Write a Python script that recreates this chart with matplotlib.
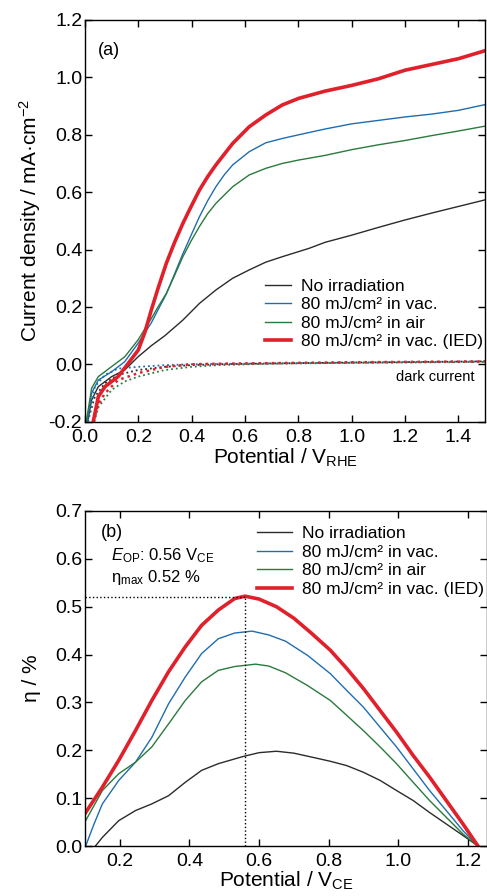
import matplotlib
matplotlib.use("Agg")
import matplotlib.pyplot as plt

plt.rcParams['font.family'] = ['Liberation Sans', 'DejaVu Sans']
plt.rcParams['mathtext.fontset'] = 'custom'
plt.rcParams['mathtext.rm'] = 'Liberation Sans'
plt.rcParams['mathtext.it'] = 'Liberation Sans:italic'

# --- (a) current density vs potential, under light (solid) ---
x_black = [0.01, 0.025, 0.05, 0.1, 0.149, 0.199, 0.249, 0.3, 0.367, 0.429, 0.491, 0.554, 0.616, 0.678, 0.74, 0.84, 0.9, 1.0, 1.1, 1.2, 1.3, 1.4, 1.5]
j_black = [-0.2, -0.124, -0.078, -0.043, -0.02, 0.026, 0.065, 0.1, 0.154, 0.212, 0.259, 0.3, 0.329, 0.356, 0.375, 0.404, 0.425, 0.45, 0.477, 0.503, 0.527, 0.55, 0.573]

x_blue = [0.008, 0.025, 0.05, 0.1, 0.149, 0.199, 0.249, 0.274, 0.305, 0.336, 0.367, 0.398, 0.429, 0.46, 0.491, 0.522, 0.554, 0.616, 0.678, 0.74, 0.802, 0.9, 1.0, 1.1, 1.2, 1.3, 1.4, 1.5]
j_blue = [-0.2, -0.1, -0.055, -0.026, 0.009, 0.073, 0.145, 0.19, 0.245, 0.315, 0.385, 0.45, 0.514, 0.57, 0.619, 0.66, 0.695, 0.741, 0.772, 0.787, 0.8, 0.82, 0.838, 0.85, 0.862, 0.872, 0.885, 0.905]

x_green = [0.005, 0.025, 0.05, 0.1, 0.149, 0.199, 0.249, 0.274, 0.305, 0.336, 0.367, 0.398, 0.429, 0.46, 0.491, 0.554, 0.616, 0.678, 0.74, 0.802, 0.9, 1.0, 1.1, 1.2, 1.3, 1.4, 1.5]
j_green = [-0.2, -0.083, -0.043, -0.008, 0.026, 0.085, 0.16, 0.2, 0.247, 0.31, 0.375, 0.43, 0.48, 0.525, 0.561, 0.619, 0.66, 0.683, 0.7, 0.712, 0.728, 0.748, 0.765, 0.78, 0.797, 0.813, 0.83]

x_red = [0.031, 0.05, 0.075, 0.1, 0.124, 0.162, 0.2, 0.224, 0.249, 0.274, 0.305, 0.336, 0.367, 0.398, 0.429, 0.46, 0.491, 0.554, 0.616, 0.678, 0.74, 0.802, 0.9, 1.0, 1.1, 1.15, 1.2, 1.3, 1.4, 1.5]
j_red = [-0.2, -0.113, -0.078, -0.06, -0.043, 0.003, 0.05, 0.11, 0.19, 0.265, 0.352, 0.425, 0.491, 0.55, 0.607, 0.654, 0.695, 0.77, 0.828, 0.869, 0.904, 0.927, 0.952, 0.972, 0.995, 1.01, 1.025, 1.045, 1.065, 1.093]

# dark currents (dotted)
xd_black = [0.01, 0.037, 0.075, 0.124, 0.199, 0.299, 0.398, 0.5, 0.7, 1.0, 1.5]
jd_black = [-0.2, -0.113, -0.066, -0.037, -0.02, -0.009, -0.003, 0.0, 0.003, 0.006, 0.01]
xd_blue = [0.012, 0.037, 0.075, 0.124, 0.199, 0.299, 0.398, 0.5, 0.7, 1.0, 1.5]
jd_blue = [-0.2, -0.078, -0.037, -0.015, -0.009, -0.003, 0.0, 0.001, 0.003, 0.006, 0.01]
xd_green = [0.035, 0.05, 0.1, 0.149, 0.199, 0.299, 0.398, 0.5, 0.7, 1.0, 1.5]
jd_green = [-0.2, -0.15, -0.089, -0.06, -0.043, -0.02, -0.009, -0.003, 0.002, 0.005, 0.008]
xd_red = [0.03, 0.05, 0.075, 0.124, 0.199, 0.299, 0.398, 0.5, 0.7, 1.0, 1.5]
jd_red = [-0.2, -0.14, -0.101, -0.055, -0.031, -0.009, 0.0, 0.002, 0.004, 0.007, 0.01]

# --- (b) efficiency vs potential ---
xe_black = [0.13, 0.15, 0.197, 0.245, 0.292, 0.34, 0.388, 0.435, 0.483, 0.554, 0.6, 0.65, 0.7, 0.75, 0.805, 0.852, 0.9, 0.948, 0.995, 1.043, 1.09, 1.138, 1.186, 1.229]
eta_black = [0.0, 0.018, 0.053, 0.074, 0.088, 0.105, 0.133, 0.158, 0.172, 0.187, 0.195, 0.198, 0.194, 0.186, 0.177, 0.168, 0.154, 0.137, 0.116, 0.095, 0.07, 0.046, 0.022, 0.0]
xe_blue = [0.102, 0.126, 0.15, 0.197, 0.245, 0.292, 0.34, 0.388, 0.435, 0.483, 0.53, 0.58, 0.628, 0.676, 0.74, 0.805, 0.852, 0.9, 0.948, 0.995, 1.043, 1.09, 1.138, 1.186, 1.229]
eta_blue = [0.0, 0.046, 0.088, 0.137, 0.175, 0.227, 0.297, 0.353, 0.402, 0.433, 0.445, 0.449, 0.441, 0.428, 0.398, 0.36, 0.325, 0.29, 0.248, 0.207, 0.161, 0.116, 0.074, 0.032, 0.0]
xe_green = [0.102, 0.15, 0.197, 0.245, 0.292, 0.34, 0.388, 0.435, 0.483, 0.53, 0.59, 0.628, 0.676, 0.74, 0.805, 0.852, 0.9, 0.948, 0.995, 1.043, 1.09, 1.138, 1.186, 1.229]
eta_green = [0.053, 0.116, 0.151, 0.175, 0.207, 0.255, 0.304, 0.343, 0.367, 0.375, 0.38, 0.376, 0.362, 0.335, 0.304, 0.273, 0.241, 0.207, 0.172, 0.133, 0.095, 0.06, 0.025, 0.0]
xe_red = [0.102, 0.15, 0.197, 0.245, 0.292, 0.34, 0.388, 0.435, 0.483, 0.53, 0.56, 0.6, 0.65, 0.7, 0.75, 0.805, 0.852, 0.9, 0.948, 0.995, 1.043, 1.09, 1.138, 1.186, 1.229]
eta_red = [0.07, 0.123, 0.179, 0.241, 0.304, 0.364, 0.416, 0.461, 0.493, 0.517, 0.522, 0.516, 0.5, 0.476, 0.445, 0.409, 0.371, 0.329, 0.283, 0.238, 0.189, 0.144, 0.095, 0.046, 0.0]

labels = ['No irradiation', '80 mJ/cm² in vac.', '80 mJ/cm² in air', '80 mJ/cm² in vac. (IED)']
colors = ['#2b2b2b', '#1f6db0', '#2a7a3c', '#e0202a']
widths = [1.0, 1.0, 1.0, 2.6]
E_op, eta_max = 0.56, 0.52

fig = plt.figure(figsize=(4.87, 8.96), dpi=100)
ax1 = fig.add_axes([0.1745, 0.5294, 0.8215, 0.4483])
ax2 = fig.add_axes([0.1745, 0.0558, 0.8255, 0.3739])

light = [(x_black, j_black), (x_blue, j_blue), (x_green, j_green), (x_red, j_red)]
dark = [(xd_black, jd_black), (xd_blue, jd_blue), (xd_green, jd_green), (xd_red, jd_red)]
for (x, y), (xd, yd), c, w, lab in zip(light, dark, colors, widths, labels):
    ax1.plot(xd, yd, ':', color=c, lw=1.8 if w > 2 else 1.3)
    ax1.plot(x, y, '-', color=c, lw=w, label=lab)

ax1.set_xlim(0, 1.5)
ax1.set_ylim(-0.2, 1.2)
ax1.set_xticks([0.0, 0.2, 0.4, 0.6, 0.8, 1.0, 1.2, 1.4])
ax1.set_yticks([-0.2, 0.0, 0.2, 0.4, 0.6, 0.8, 1.0, 1.2])
ax1.set_xticklabels(['0.0', '0.2', '0.4', '0.6', '0.8', '1.0', '1.2', '1.4'])
ax1.set_yticklabels(['-0.2', '0.0', '0.2', '0.4', '0.6', '0.8', '1.0', '1.2'])
ax1.set_xlabel('Potential / V$_{\\rm RHE}$', fontsize=15, labelpad=1)
ax1.set_ylabel('Current density / mA·cm$^{-2}$', fontsize=15, labelpad=4)
ax1.text(0.05, 1.095, '(a)', fontsize=13, va='center')
ax1.text(1.46, -0.043, 'dark current', fontsize=10.5, ha='right', va='center')
ax1.legend(loc='upper left', bbox_to_anchor=(0.45, 0.355), frameon=False, fontsize=12.5,
           handlelength=1.5, handletextpad=0.6, labelspacing=0.18, borderpad=0, borderaxespad=0)

eff = [(xe_black, eta_black), (xe_blue, eta_blue), (xe_green, eta_green), (xe_red, eta_red)]
for (x, y), c, w, lab in zip(eff, colors, widths, labels):
    ax2.plot(x, y, '-', color=c, lw=w, label=lab)
ax2.plot([0.1, E_op], [eta_max, eta_max], ':', color='black', lw=1.0)
ax2.plot([E_op, E_op], [0, eta_max], ':', color='black', lw=1.0)

ax2.set_xlim(0.1, 1.255)
ax2.set_ylim(0, 0.7)
ax2.set_xticks([0.2, 0.4, 0.6, 0.8, 1.0, 1.2])
ax2.set_yticks([0.0, 0.1, 0.2, 0.3, 0.4, 0.5, 0.6, 0.7])
ax2.set_xticklabels(['0.2', '0.4', '0.6', '0.8', '1.0', '1.2'])
ax2.set_yticklabels(['0.0', '0.1', '0.2', '0.3', '0.4', '0.5', '0.6', '0.7'])
ax2.set_xlabel('Potential / V$_{\\rm CE}$', fontsize=15, labelpad=0)
ax2.set_ylabel('η / %', fontsize=15, labelpad=10)
ax2.text(0.145, 0.656, '(b)', fontsize=13, va='center')
ax2.text(0.175, 0.607, '$\\it{E}_{\\rm OP}$: 0.56 V$_{\\rm CE}$', fontsize=12, va='center')
ax2.text(0.175, 0.56, 'η$_{\\rm max}$ 0.52 %', fontsize=12, va='center')
ax2.legend(loc='upper left', bbox_to_anchor=(0.428, 0.955), frameon=False, fontsize=12.5,
           handlelength=2.0, handletextpad=0.6, labelspacing=0.2, borderpad=0, borderaxespad=0)

for ax in (ax1, ax2):
    ax.tick_params(direction='in', top=True, right=True, length=5, width=1, labelsize=14)
    ax.tick_params(axis='x', pad=5)
    ax.tick_params(axis='y', pad=2)
    for s in ax.spines.values():
        s.set_linewidth(1.0)

fig.savefig('out.png', dpi=100)
